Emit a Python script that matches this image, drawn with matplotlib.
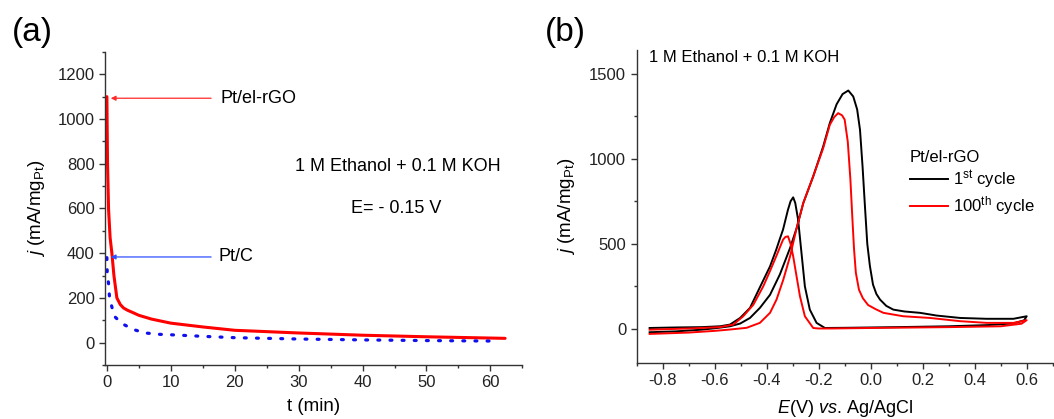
import numpy as np
import matplotlib
matplotlib.use("Agg")
import matplotlib.pyplot as plt
from matplotlib.ticker import MultipleLocator

plt.rcParams['font.family'] = ['Liberation Sans', 'DejaVu Sans']
plt.rcParams['mathtext.fontset'] = 'custom'
plt.rcParams['mathtext.rm'] = 'Liberation Sans'
plt.rcParams['mathtext.it'] = 'Liberation Sans:italic'

# (a) chronoamperometry
t_rgo = [0, 0.03, 0.1, 0.26, 0.5, 0.78, 1.1, 1.56, 2.1, 2.6, 3.2, 4, 5, 7, 10, 15, 20, 25, 30, 40, 50, 62.3]
j_rgo = [1100, 1000, 800, 597, 470, 400, 300, 200, 170, 155, 145, 135, 122, 105, 87, 70, 55, 49, 43, 33, 26, 19]
t_ptc = [0, 0.05, 0.26, 0.4, 0.78, 1.3, 2.35, 4.2, 6, 8.2, 10, 15, 20, 30, 40, 50, 60]
j_ptc = [380, 314, 263, 206, 159, 114, 85, 58, 43, 37, 35, 28, 22, 16, 12, 9, 7]

# (b) cyclic voltammetry, forward scan then reverse scan
E_1st = [-0.85, -0.75, -0.65, -0.59, -0.541, -0.502, -0.464, -0.426, -0.387, -0.349, -0.31, -0.285,
         -0.259, -0.221, -0.183, -0.157, -0.131, -0.108, -0.086, -0.067, -0.052, -0.041, -0.031,
         -0.022, -0.013, -0.003, 0.009, 0.022, 0.036, 0.06, 0.087, 0.13, 0.19, 0.254, 0.344, 0.446,
         0.549, 0.6,
         0.59, 0.55, 0.45, 0.3, 0.1, -0.1, -0.176, -0.208, -0.234, -0.253, -0.266, -0.279, -0.29,
         -0.298, -0.308, -0.318, -0.337, -0.349, -0.363, -0.387, -0.426, -0.464, -0.502, -0.541,
         -0.579, -0.65, -0.75, -0.85]
j_1st = [-20, -15, -5, 5, 15, 31, 64, 123, 200, 320, 475, 590,
         740, 896, 1070, 1210, 1320, 1380, 1401, 1366, 1290, 1170, 950,
         720, 500, 370, 260, 205, 172, 135, 113, 102, 94, 78, 64, 59,
         59, 74,
         50, 32, 22, 15, 10, 6, 5, 35, 113, 250, 446, 642, 740,
         773, 750, 700, 583, 530, 466, 367, 244, 123, 64, 25,
         15, 10, 8, 5]
E_100 = [-0.85, -0.7, -0.6, -0.541, -0.477, -0.426, -0.387, -0.362, -0.336, -0.31, -0.285, -0.259,
         -0.221, -0.183, -0.157, -0.14, -0.125, -0.11, -0.10, -0.088, -0.078, -0.07, -0.064, -0.057,
         -0.045, -0.03, -0.01, 0.02, 0.049, 0.125, 0.228, 0.344, 0.446, 0.549, 0.6,
         0.58, 0.5, 0.3, 0.0, -0.15, -0.2, -0.221, -0.253, -0.272, -0.285, -0.298, -0.308, -0.318,
         -0.328, -0.337, -0.363, -0.387, -0.413, -0.451, -0.49, -0.528, -0.58, -0.7, -0.85]
j_100 = [-30, -22, -12, -4, 6, 35, 94, 172, 289, 426, 590, 740,
         896, 1060, 1200, 1245, 1268, 1255, 1230, 1100, 880, 640, 470, 330,
         230, 180, 140, 115, 94, 74, 64, 45, 35, 35, 51,
         30, 15, 10, 5, 2, 2, 5, 74, 192, 309, 427, 500, 544,
         540, 524, 427, 340, 250, 142, 74, 25, 10, 2, -5]

fig = plt.figure(figsize=(10.54, 4.19), dpi=100)
ax1 = fig.add_axes([0.0996, 0.129, 0.396, 0.747])
ax2 = fig.add_axes([0.604, 0.134, 0.396, 0.747])

for ax in (ax1, ax2):
    for s in ('top', 'right'):
        ax.spines[s].set_visible(False)
    for s in ('left', 'bottom'):
        ax.spines[s].set_color('#333333')
        ax.spines[s].set_linewidth(1.0)
    ax.tick_params(which='major', direction='out', length=4, width=1, colors='#333333',
                   labelcolor='#222222', labelsize=12)
    ax.tick_params(which='minor', direction='out', length=2.5, width=1, colors='#333333')

# panel a
ax1.plot(t_rgo, j_rgo, color='red', lw=2.2, solid_capstyle='round')
ax1.plot(t_ptc, j_ptc, color='#1010ee', lw=2.3, linestyle=(0, (0.6, 3.2)), dash_capstyle='round')
ax1.set_xlim(-0.3, 65)
ax1.set_ylim(-100, 1300)
ax1.xaxis.set_major_locator(MultipleLocator(10))
ax1.xaxis.set_minor_locator(MultipleLocator(5))
ax1.yaxis.set_major_locator(MultipleLocator(200))
ax1.yaxis.set_minor_locator(MultipleLocator(100))
ax1.set_xlabel('t (min)', fontsize=13.5)
ax1.set_ylabel(r'$j$ (mA/mg$_{\rm Pt}$)', fontsize=13.5)
ax1.xaxis.set_label_coords(0.5, -0.105)
ax1.yaxis.set_label_coords(-0.139, 0.5)

ax1.annotate('', xy=(0.6, 1093), xytext=(16.3, 1093),
             arrowprops=dict(arrowstyle='-|>', color='#ff2a2a', lw=0.9, mutation_scale=7,
                             shrinkA=0, shrinkB=0))
ax1.text(17.7, 1093, 'Pt/el-rGO', fontsize=13, va='center', ha='left')
ax1.annotate('', xy=(0.6, 383), xytext=(16.3, 383),
             arrowprops=dict(arrowstyle='-|>', color='#3050ff', lw=0.9, mutation_scale=7,
                             shrinkA=0, shrinkB=0))
ax1.text(17.5, 383, 'Pt/C', fontsize=13, va='center', ha='left')
ax1.text(45.5, 787, '1 M Ethanol + 0.1 M KOH', fontsize=13, va='center', ha='center')
ax1.text(45.2, 602, 'E= - 0.15 V', fontsize=13, va='center', ha='center')

# panel b
ax2.plot(E_1st, j_1st, color='black', lw=1.4, label=r'1$^{\rm st}$ cycle')
ax2.plot(E_100, j_100, color='red', lw=1.4, label=r'100$^{\rm th}$ cycle')
ax2.set_xlim(-0.9, 0.705)
ax2.set_ylim(-200, 1640)
ax2.xaxis.set_major_locator(MultipleLocator(0.2))
ax2.xaxis.set_minor_locator(MultipleLocator(0.1))
ax2.yaxis.set_major_locator(MultipleLocator(500))
ax2.yaxis.set_minor_locator(MultipleLocator(250))
ax2.xaxis.set_major_formatter(plt.FuncFormatter(lambda v, p: '%.1f' % v))
ax2.set_xlabel(r'$E$(V) $vs.\,$Ag/AgCl', fontsize=13)
ax2.set_ylabel(r'$j$ (mA/mg$_{\rm Pt}$)', fontsize=13.5)
ax2.xaxis.set_label_coords(0.5, -0.112)
ax2.yaxis.set_label_coords(-0.144, 0.5)
ax2.text(-0.853, 1597, '1 M Ethanol + 0.1 M KOH', fontsize=12, va='center', ha='left')
leg = ax2.legend(title='Pt/el-rGO', loc='upper left', bbox_to_anchor=(0.655, 0.68),
                 frameon=False, fontsize=12, title_fontsize=12, handlelength=2.25,
                 handletextpad=0.35, labelspacing=0.2, borderpad=0, borderaxespad=0)
leg._legend_box.align = 'left'

fig.text(0.011, 1 - 32 / 419, '(a)', fontsize=24, va='center', ha='left')
fig.text(0.517, 1 - 32 / 419, '(b)', fontsize=24, va='center', ha='left')

fig.savefig('out.png', dpi=100)
